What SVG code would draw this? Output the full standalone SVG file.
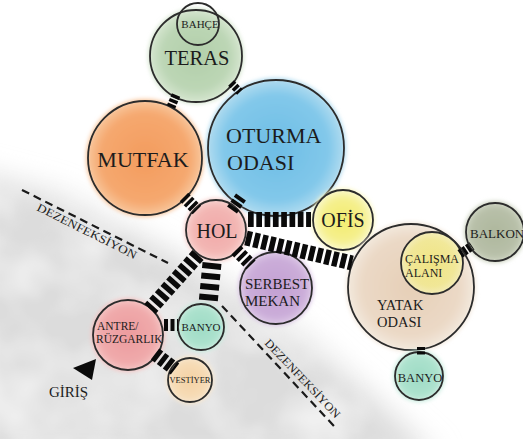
<svg xmlns="http://www.w3.org/2000/svg" width="523" height="439" viewBox="0 0 523 439">
<style>
.o{fill:none;stroke:#2c2c2c;stroke-width:1.8}
.t{font-family:'Liberation Serif','Times New Roman','DejaVu Serif',serif;fill:#1c1c1c}
.m{text-anchor:middle}
.conn line{stroke:#0a0a0a;stroke-linecap:butt}
.dz{fill:none;stroke:#1a1a1a;stroke-width:2.2;stroke-dasharray:8 5}
.dzt{font-family:'Liberation Serif','Times New Roman','DejaVu Serif',serif;font-size:11.5px;fill:#1c1c1c}
</style>
<defs>
<filter id="soft" x="-20%" y="-20%" width="140%" height="140%"><feGaussianBlur stdDeviation="2.2"/></filter>
<filter id="wash" x="-20%" y="-20%" width="140%" height="140%">
<feGaussianBlur in="SourceGraphic" stdDeviation="14" result="b"/>
<feTurbulence type="fractalNoise" baseFrequency="0.014" numOctaves="3" seed="5" result="n"/>
<feColorMatrix in="n" type="matrix" values="0 0 0 0 1  0 0 0 0 1  0 0 0 0 1  1.1 0 0 0 -0.35" result="w"/>
<feComposite in="w" in2="b" operator="in" result="wb"/>
<feMerge><feMergeNode in="b"/><feMergeNode in="wb"/></feMerge>
</filter>
<radialGradient id="gTeras"><stop offset="0" stop-color="#b2cfaa"/><stop offset="0.7" stop-color="#bcd6b5"/><stop offset="1" stop-color="#d9e8d3"/></radialGradient>
<radialGradient id="gMutfak"><stop offset="0" stop-color="#f39c5e"/><stop offset="0.75" stop-color="#f5a86f"/><stop offset="1" stop-color="#f9c9a0"/></radialGradient>
<radialGradient id="gOturma"><stop offset="0" stop-color="#6dbde5"/><stop offset="0.75" stop-color="#82c8ea"/><stop offset="1" stop-color="#b4ddf0"/></radialGradient>
<radialGradient id="gHol"><stop offset="0" stop-color="#f1a8a8"/><stop offset="0.7" stop-color="#f3b7b4"/><stop offset="1" stop-color="#f8d6d3"/></radialGradient>
<radialGradient id="gOfis"><stop offset="0" stop-color="#f3ec6e"/><stop offset="0.65" stop-color="#f5f08e"/><stop offset="1" stop-color="#fbf9d2"/></radialGradient>
<radialGradient id="gSerbest"><stop offset="0" stop-color="#c3a0d3"/><stop offset="0.75" stop-color="#cbadd9"/><stop offset="1" stop-color="#e0cde9"/></radialGradient>
<radialGradient id="gYatak"><stop offset="0" stop-color="#e6cfb7"/><stop offset="0.75" stop-color="#ebd9c6"/><stop offset="1" stop-color="#f4eadf"/></radialGradient>
<radialGradient id="gCalisma"><stop offset="0" stop-color="#f1e77a"/><stop offset="0.75" stop-color="#f2ea90"/><stop offset="1" stop-color="#f5efb4"/></radialGradient>
<radialGradient id="gBalkon"><stop offset="0" stop-color="#aeb79d"/><stop offset="0.75" stop-color="#b8c0a9"/><stop offset="1" stop-color="#d2d8c6"/></radialGradient>
<radialGradient id="gBanyo"><stop offset="0" stop-color="#9edcc5"/><stop offset="0.75" stop-color="#ade2ce"/><stop offset="1" stop-color="#d1efe4"/></radialGradient>
<radialGradient id="gAntre"><stop offset="0" stop-color="#ec9b9e"/><stop offset="0.75" stop-color="#f0aaab"/><stop offset="1" stop-color="#f6c9c8"/></radialGradient>
<radialGradient id="gVest"><stop offset="0" stop-color="#f4d2a4"/><stop offset="0.75" stop-color="#f6dcb7"/><stop offset="1" stop-color="#faebd6"/></radialGradient>
</defs>

<rect width="523" height="439" fill="#ffffff"/>
<path d="M-30,170 L60,194 L175,254 L228,284 L300,332 L370,394 L440,460 L-30,460 Z" fill="#dcdcdc" filter="url(#wash)"/>

<g id="dezenfeksiyon-1">
<line class="dz" x1="22" y1="190" x2="168" y2="263"/>
<text class="dzt" font-family="Liberation Serif" transform="translate(36,210) rotate(26.6)" textLength="110" lengthAdjust="spacingAndGlyphs">DEZENFEKSİYON</text>
</g>
<g id="dezenfeksiyon-2">
<line class="dz" x1="222" y1="306" x2="334" y2="426"/>
<text class="dzt" font-family="Liberation Serif" transform="translate(264,343.5) rotate(46.5)" textLength="104" lengthAdjust="spacingAndGlyphs">DEZENFEKSİYON</text>
</g>

<g id="teras">
<circle cx="196" cy="56" r="48" fill="url(#gTeras)" filter="url(#soft)"/>
<circle class="o" cx="196" cy="56" r="46"/>
<text class="t m" font-family="Liberation Serif" x="197" y="65" font-size="20.5">TERAS</text>
</g>
<g id="bahce">
<circle class="o" cx="198" cy="24" r="21"/>
<text class="t m" font-family="Liberation Serif" x="200" y="28" font-size="11">BAHÇE</text>
</g>
<g id="mutfak">
<circle cx="145" cy="158" r="59" fill="url(#gMutfak)" filter="url(#soft)"/>
<circle class="o" cx="145" cy="158" r="57"/>
<text class="t m" font-family="Liberation Serif" x="143" y="167" font-size="22">MUTFAK</text>
</g>
<g id="oturma-odasi">
<circle cx="276" cy="148" r="70" fill="url(#gOturma)" filter="url(#soft)"/>
<circle class="o" cx="276" cy="148" r="68"/>
<text class="t" font-family="Liberation Serif" x="226" y="143" font-size="22">OTURMA</text>
<text class="t" font-family="Liberation Serif" x="227" y="170" font-size="22">ODASI</text>
</g>
<g id="hol">
<circle cx="216" cy="230" r="32" fill="url(#gHol)" filter="url(#soft)"/>
<circle class="o" cx="216" cy="230" r="30"/>
<text class="t m" font-family="Liberation Serif" x="217" y="238" font-size="20">HOL</text>
</g>
<g id="ofis">
<circle cx="343" cy="220" r="32" fill="url(#gOfis)" filter="url(#soft)"/>
<circle class="o" cx="343" cy="220" r="30"/>
<text class="t m" font-family="Liberation Serif" x="343" y="227" font-size="20">OFİS</text>
</g>
<g id="serbest-mekan">
<circle cx="276" cy="288" r="38" fill="url(#gSerbest)" filter="url(#soft)"/>
<circle class="o" cx="276" cy="288" r="36"/>
<text class="t" font-family="Liberation Serif" x="245" y="289" font-size="15">SERBEST</text>
<text class="t" font-family="Liberation Serif" x="245" y="306" font-size="15">MEKAN</text>
</g>
<g id="yatak-odasi">
<circle cx="411" cy="287" r="65" fill="url(#gYatak)" filter="url(#soft)"/>
<circle class="o" cx="411" cy="287" r="63"/>
<text class="t" font-family="Liberation Serif" x="377" y="310" font-size="14.5">YATAK</text>
<text class="t" font-family="Liberation Serif" x="377" y="327" font-size="14.5">ODASI</text>
</g>
<g id="calisma-alani">
<circle cx="432" cy="263" r="31" fill="url(#gCalisma)" opacity="0.85"/>
<circle class="o" cx="432" cy="263" r="31"/>
<text class="t" font-family="Liberation Serif" x="405" y="263" font-size="12">ÇALIŞMA</text>
<text class="t" font-family="Liberation Serif" x="405" y="277" font-size="12">ALANI</text>
</g>
<g id="balkon">
<circle cx="495" cy="232" r="31" fill="url(#gBalkon)" filter="url(#soft)"/>
<circle class="o" cx="495" cy="232" r="29"/>
<text class="t" font-family="Liberation Serif" x="470" y="238" font-size="13">BALKON</text>
</g>
<g id="banyo-2">
<circle cx="419" cy="376" r="26" fill="url(#gBanyo)" filter="url(#soft)"/>
<circle class="o" cx="419" cy="376" r="24"/>
<text class="t m" font-family="Liberation Serif" x="420" y="382" font-size="12.5">BANYO</text>
</g>
<g id="antre-ruzgarlik">
<circle cx="128" cy="335" r="37" fill="url(#gAntre)" filter="url(#soft)"/>
<circle class="o" cx="128" cy="335" r="35"/>
<text class="t" font-family="Liberation Serif" x="97" y="330" font-size="11.5">ANTRE/</text>
<text class="t" font-family="Liberation Serif" x="96" y="343" font-size="11.5">RÜZGARLIK</text>
</g>
<g id="banyo-1">
<circle cx="201" cy="327" r="25" fill="url(#gBanyo)" filter="url(#soft)"/>
<circle class="o" cx="201" cy="327" r="23"/>
<text class="t m" font-family="Liberation Serif" x="201" y="331" font-size="11">BANYO</text>
</g>
<g id="vestiyer">
<circle cx="190" cy="380" r="24" fill="url(#gVest)" filter="url(#soft)"/>
<circle class="o" cx="190" cy="380" r="22"/>
<text class="t m" font-family="Liberation Serif" x="190" y="383" font-size="8.5">VESTİYER</text>
</g>
<g id="giris">
<polygon points="73,368 96,359 92,380" fill="#0a0a0a"/>
<text class="t" font-family="Liberation Serif" x="49" y="397" font-size="15">GİRİŞ</text>
</g>

<g id="connectors" class="conn">
<line x1="176" y1="95" x2="171" y2="107" stroke-width="9" stroke-dasharray="3.5 1.5"/>
<line x1="231" y1="83" x2="240" y2="92" stroke-width="8" stroke-dasharray="3.5 1.5"/>
<line x1="184" y1="197" x2="197" y2="210" stroke-width="12" stroke-dasharray="3.5 2"/>
<line x1="241" y1="197" x2="232" y2="210" stroke-width="12" stroke-dasharray="4 2"/>
<line x1="248" y1="219.5" x2="311" y2="219.5" stroke-width="15" stroke-dasharray="5.7 2.6"/>
<line x1="246" y1="238" x2="352" y2="263" stroke-width="15" stroke-dasharray="5.5 2.6"/>
<line x1="236" y1="250" x2="251" y2="265" stroke-width="13" stroke-dasharray="4 2.5"/>
<line x1="198" y1="255" x2="150" y2="309" stroke-width="15" stroke-dasharray="5.5 3"/>
<line x1="212" y1="263" x2="208" y2="304" stroke-width="19" stroke-dasharray="6 4.5"/>
<line x1="164" y1="325" x2="178" y2="325" stroke-width="12" stroke-dasharray="4 2.5"/>
<line x1="155" y1="354" x2="175" y2="369" stroke-width="14" stroke-dasharray="5 2.5"/>
<line x1="460" y1="254" x2="472" y2="246" stroke-width="9" stroke-dasharray="3 1.5"/>
<line x1="421" y1="347" x2="421" y2="356" stroke-width="8" stroke-dasharray="3 1.5"/>
</g>
</svg>
